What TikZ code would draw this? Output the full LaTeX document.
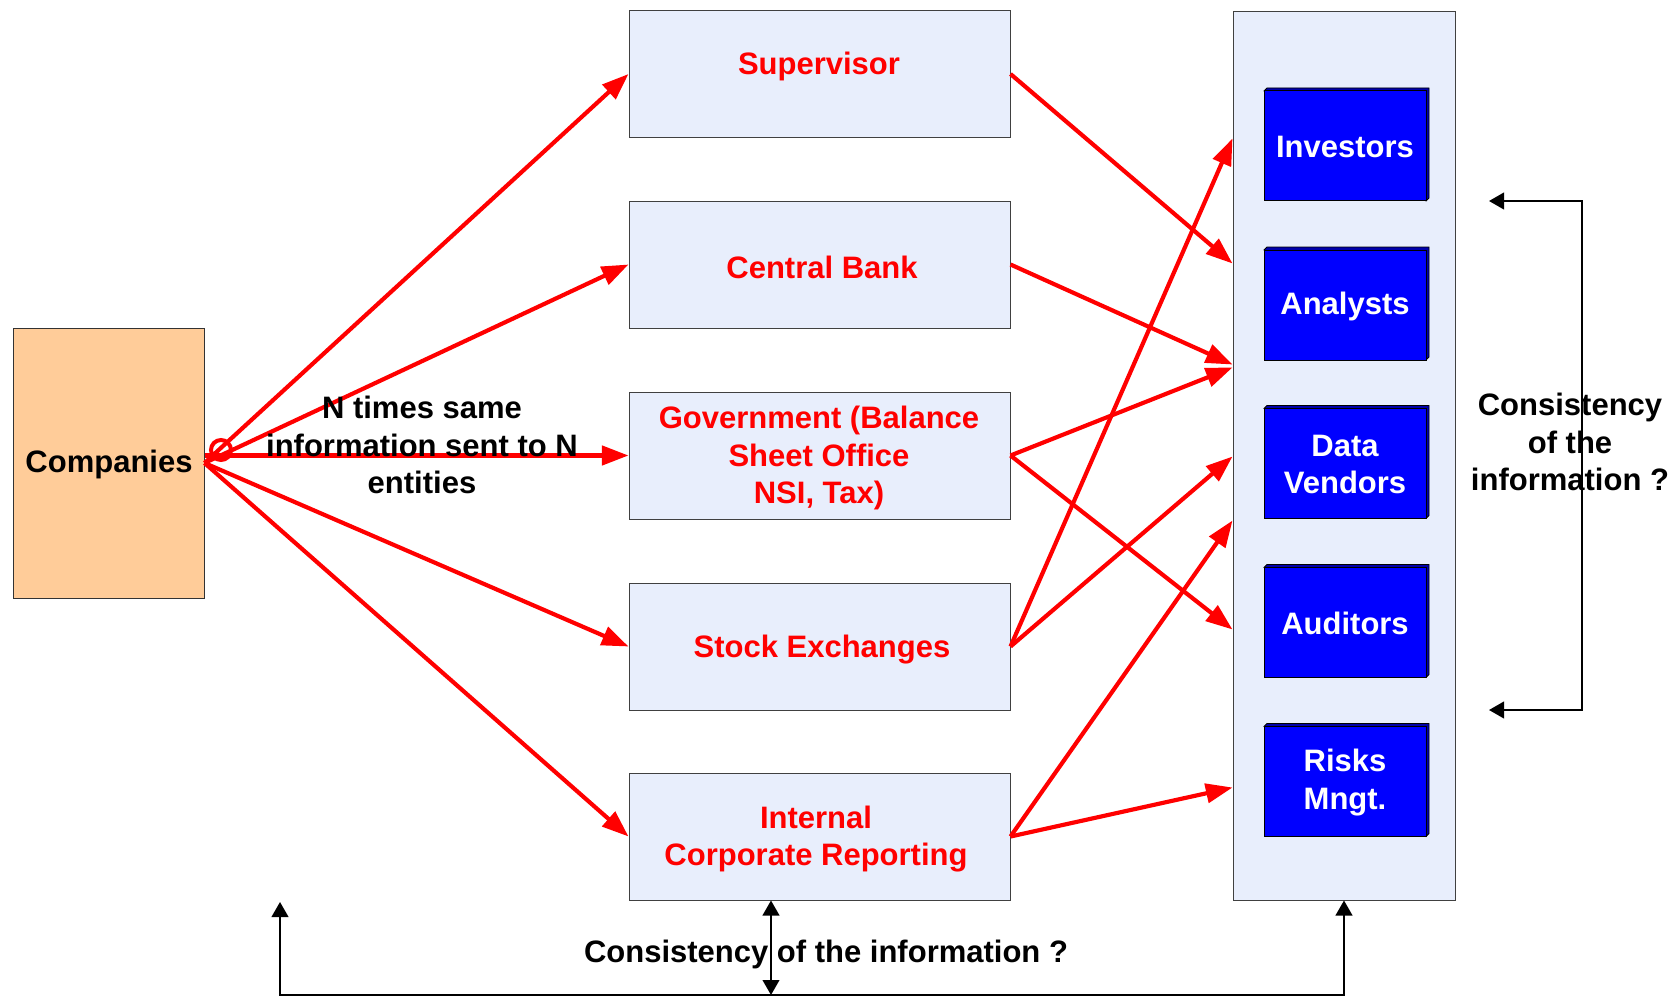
\documentclass[tikz,border=0pt]{standalone}
\usepackage{fontspec}
\setmainfont{Liberation Sans}
\usetikzlibrary{arrows.meta,calc}
\definecolor{lblue}{RGB}{232,238,252}
\definecolor{peach}{RGB}{255,204,153}
\definecolor{vblue}{RGB}{0,0,255}
\definecolor{dblue}{RGB}{0,0,170}
\begin{document}
\begin{tikzpicture}[x=0.6pt,y=-0.6pt,
  txt/.style={font=\bfseries\fontsize{18.6}{22.4}\selectfont, align=center, inner sep=0pt, yshift=-1.9pt},
  midbox/.style={draw=black!75, line width=0.6pt, fill=lblue, minimum width=228.6pt, minimum height=76.2pt, inner sep=0pt},
  redtxt/.style={txt, text=red},
  redarrow/.style={draw=red, line width=2.5pt, -{Triangle[length=16pt,width=11.5pt]}},
  blkarrow/.style={draw=black, line width=1.2pt, {Triangle[length=9pt,width=10pt]}-{Triangle[length=9pt,width=10pt]}}
]
\useasboundingbox (0,0) rectangle (1674,997);

% Companies
\node[draw=black!80, line width=0.6pt, fill=peach, minimum width=114.6pt, minimum height=162pt, inner sep=0pt] (comp) at (108.5,463) {};
\node[txt] (comptxt) at (109,461) {Companies};

% Middle boxes
\node[midbox] (sup) at (819.5,74) {};
\node[redtxt] (suptxt) at (819,63) {Supervisor};
\node[midbox] (cb) at (819.5,264.5) {};
\node[redtxt] (cbtxt) at (822,264) {Central Bank};
\node[midbox] (gov) at (819.5,455.5) {};
\node[redtxt] (govtxt) at (819,455) {Government (Balance\\Sheet Office\\NSI, Tax)};
\node[midbox] (se) at (819.5,646.5) {};
\node[redtxt] (setxt) at (822,646) {Stock Exchanges};
\node[midbox] (icr) at (819.5,836.5) {};
\node[redtxt] (icrtxt) at (816,836) {Internal\\Corporate Reporting};

% Right container
\node[draw=black!75, line width=0.6pt, fill=lblue, minimum width=133.2pt, minimum height=533.4pt, inner sep=0pt] (rbox) at (1344,455.5) {};

% Blue boxes with slight 3D edge
\foreach \nm/\cy/\lab in {inv/146/Investors, ana/305/Analysts, dv/463.5/{Data\\Vendors}, aud/622.5/Auditors, rm/781.5/{Risks\\Mngt.}}{
  \fill[dblue, draw=black, line width=0.5pt] (1264,\cy-55) -- (1267,\cy-58) -- (1429,\cy-58) -- (1429,\cy+52) -- (1426,\cy+55) -- cycle;
  \node[draw=black, line width=0.6pt, fill=vblue, minimum width=97.2pt, minimum height=66pt, inner sep=0pt] (\nm) at (1345,\cy) {};
  \node[txt, text=white] at (1345,\cy-2) {\lab};
}

% Red arrows from Companies
\draw[redarrow] (comp.east) -- (sup.west);
\draw[redarrow] (comp.east) -- (cb.west);
\draw[redarrow] (comp.east |- gov.west) -- (gov.west);
\draw[redarrow] (comp.east) -- (se.west);
\draw[redarrow] (comp.east) -- (icr.west);
\node[draw=red, line width=2.4pt, circle, minimum size=12pt, inner sep=0pt] (circ) at (221,450) {};

\node[txt] (ntxt) at (422,442) {N times same\\information sent to N\\entities};

% Red arrows to right container
\draw[redarrow] (sup.east) -- ([yshift=-253*0.6pt]rbox.north west);
\draw[redarrow] (cb.east) -- ([yshift=-354*0.6pt]rbox.north west);
\draw[redarrow] (gov.east) -- ([yshift=-357*0.6pt]rbox.north west);
\draw[redarrow] (gov.east) -- ([yshift=-619*0.6pt]rbox.north west);
\draw[redarrow] (se.east) -- ([yshift=-128*0.6pt]rbox.north west);
\draw[redarrow] (se.east) -- ([yshift=-446*0.6pt]rbox.north west);
\draw[redarrow] (icr.east) -- ([yshift=-510*0.6pt]rbox.north west);
\draw[redarrow] (icr.east) -- ([yshift=-777*0.6pt]rbox.north west);

% Right bracket
\coordinate (rt) at (1489,201);
\coordinate (rtc) at (1582,201);
\coordinate (rbc) at (1582,710);
\coordinate (rb) at (1489,710);
\draw[blkarrow] (rt) -- (rtc) -- (rbc) -- (rb);
\node[txt] (rtxt) at (1570,439) {Consistency\\of the\\information ?};

% Bottom connectors
\coordinate (lt) at (280,902);
\coordinate (lb) at (280,995);
\coordinate (mb) at (771,995);
\draw[blkarrow] (lt) -- (lb) -- (rbox.south |- lb) -- (rbox.south);
\draw[blkarrow] (mb |- icr.south) -- (mb);
\node[txt] (btxt) at (826,951) {Consistency of the information ?};
\end{tikzpicture}
\end{document}
